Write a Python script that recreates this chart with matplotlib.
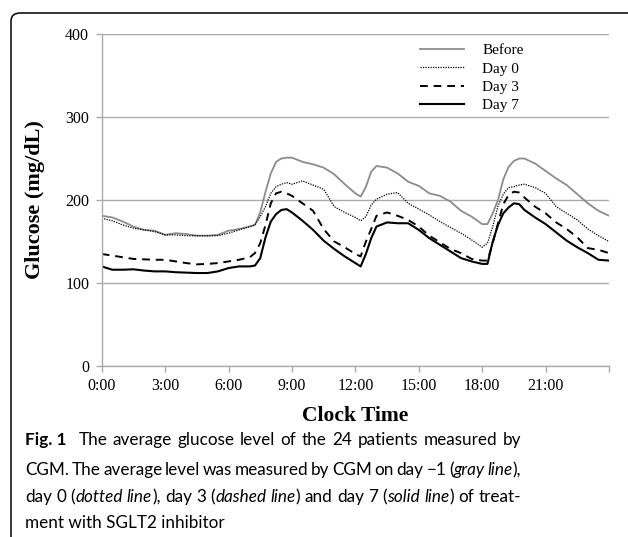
import matplotlib
matplotlib.use('Agg')
import matplotlib.pyplot as plt
from matplotlib.patches import FancyBboxPatch

# clock time (hours) and mean glucose (mg/dL)
hours = [0, 0.5, 1, 1.5, 2, 2.5, 3, 3.5, 4, 4.5, 5, 5.5, 6, 6.5, 7, 7.25,
         7.5, 7.75, 8, 8.25, 8.5, 8.75, 9, 9.5, 10, 10.5, 11, 11.5, 12, 12.25,
         12.5, 12.75, 13, 13.5, 14, 14.5, 15, 15.5, 16, 16.5, 17, 17.5, 18, 18.25,
         18.5, 18.75, 19, 19.25, 19.5, 19.75, 20, 20.5, 21, 21.5, 22, 22.5, 23, 23.5, 24]

before = [181, 179, 174, 168, 164, 163, 158, 160, 159, 157, 157, 158, 163, 165, 168, 170,
          185, 210, 232, 246, 250, 251, 251, 246, 243, 239, 231, 219, 208, 204,
          216, 234, 241, 239, 232, 222, 217, 208, 205, 198, 187, 180, 171, 171,
          184, 200, 225, 240, 247, 250, 250, 244, 235, 226, 218, 207, 196, 187, 181]

day0 = [178, 175, 170, 166, 164, 162, 158, 158, 157, 157, 157, 157, 160, 164, 168, 170,
        180, 192, 208, 216, 219, 221, 219, 223, 218, 213, 192, 185, 179, 175,
        180, 194, 201, 207, 209, 196, 189, 182, 174, 167, 160, 152, 143, 148,
        168, 193, 207, 215, 216, 218, 219, 215, 208, 192, 184, 176, 165, 157, 150]

day3 = [135, 133, 131, 129, 128.5, 128, 128, 126, 124, 122.5, 123, 124, 126, 128, 131, 136,
        148, 170, 196, 208, 210, 208, 205, 196, 187, 165, 150, 143, 135, 132,
        150, 165, 181, 185, 181, 176, 168, 157, 149, 141, 136, 129, 127, 127,
        148, 172, 195, 206, 210, 209, 203, 192, 184, 173, 165, 155, 142, 140, 136]

day7 = [120, 116, 116, 116.5, 115, 114, 114, 113, 112.5, 112, 112, 114, 118, 120, 120, 121,
        130, 155, 174, 183, 188, 189, 185, 175, 164, 151, 141, 132, 124, 120,
        135, 154, 168, 173, 172, 172, 164, 154, 146, 138, 130, 126, 123, 123,
        150, 170, 184, 191, 196, 195, 188, 179, 171, 161, 151, 143, 136, 128, 127]

tick_hours = [0, 3, 6, 9, 12, 15, 18, 21, 24]
tick_labels = ['0:00', '3:00', '6:00', '9:00', '12:00', '15:00', '18:00', '21:00', '']
y_ticks = [0, 100, 200, 300, 400]

W, H = 628, 537
fig = plt.figure(figsize=(W / 100, H / 100), dpi=100)
ax = fig.add_axes([101.7 / W, 1 - 366 / H, 507.3 / W, 332 / H])

serif = 'Liberation Serif'
grid_col = '#ababab'

ax.plot(hours, before, color='#8c8c8c', lw=1.3, label='Before')
ax.plot(hours, day0, color='black', lw=0.9, ls=(0, (1, 1)), label='Day 0')
ax.plot(hours, day3, color='black', lw=1.4, ls=(0, (4, 3)), label='Day 3')
ax.plot(hours, day7, color='black', lw=1.5, label='Day 7')

ax.set_xlim(0, 24)
ax.set_ylim(0, 400)
ax.set_xticks(tick_hours)
ax.set_xticklabels(tick_labels, family=serif, fontsize=11.5)
ax.set_yticks(y_ticks)
ax.set_yticklabels([str(v) for v in y_ticks], family=serif, fontsize=11.5)
ax.tick_params(axis='both', color=grid_col, length=4, width=1, pad=5)
for s in ['top', 'right']:
    ax.spines[s].set_visible(False)
for s in ['left', 'bottom']:
    ax.spines[s].set_color(grid_col)
    ax.spines[s].set_linewidth(1)
ax.yaxis.grid(True, color=grid_col, lw=1)
ax.set_axisbelow(True)

ax.set_ylabel('Glucose (mg/dL)', family=serif, fontweight='bold', fontsize=16)
ax.yaxis.set_label_coords(-0.112, 0.5)
ax.set_xlabel('Clock Time', family=serif, fontweight='bold', fontsize=15.5)
ax.xaxis.set_label_coords(0.5, -0.12)

ax.legend(loc='upper left', bbox_to_anchor=(0.627, 0.971), frameon=False,
          prop={'family': serif, 'size': 11}, handlelength=2.9,
          handletextpad=1.2, labelspacing=0.3, borderpad=0, borderaxespad=0)

# rounded frame of the figure panel (cropped at right and bottom)
frame = FancyBboxPatch((11 / W, 1 - 545 / H), 630 / W, 532 / H,
                       boxstyle='round,pad=0,rounding_size=0.015',
                       transform=fig.transFigure, fill=False, ec='black', lw=1.1,
                       clip_on=False)
fig.patches.append(frame)

# caption, with bold / italic runs; lines 1-3 justified
cap_font = ['Lato', 'DejaVu Sans']
cap_size = 12.3
caption = [
    [('Fig.\u00a01', 'bold', 'normal'), ('  The average glucose level of the 24 patients measured by', 'normal', 'normal')],
    [('CGM. The average level was measured by CGM on day \u22121 (', 'normal', 'normal'),
     ('gray line', 'normal', 'italic'), ('),', 'normal', 'normal')],
    [('day 0 (', 'normal', 'normal'), ('dotted line', 'normal', 'italic'), ('), day 3 (', 'normal', 'normal'),
     ('dashed line', 'normal', 'italic'), (') and day 7 (', 'normal', 'normal'),
     ('solid line', 'normal', 'italic'), (') of treat-', 'normal', 'normal')],
    [('ment with SGLT2 inhibitor', 'normal', 'normal')],
]
line_base = [445, 475, 502, 528]
justified = [True, True, True, False]
x_left, x_right = 25.0, 521.0

renderer = fig.canvas.get_renderer()


def cap_text(x, y, s, weight, style):
    return fig.text(x / W, 1 - y / H, s, family=cap_font, fontsize=cap_size,
                    fontweight=weight, fontstyle=style, va='baseline', ha='left')


for runs, yy, just in zip(caption, line_base, justified):
    if not just:
        x = x_left
        for txt, weight, style in runs:
            t = cap_text(x, yy, txt, weight, style)
            x = t.get_window_extent(renderer).x1
        continue
    # split into words, each a list of (text, weight, style) pieces
    words, gaps = [[]], []
    for txt, weight, style in runs:
        for i, part in enumerate(txt.split(' ')):
            if i > 0:
                if words[-1]:
                    words.append([])
                    gaps.append(1.0)
                elif gaps:
                    gaps[-1] += 1.2
            if part:
                words[-1].append((part, weight, style))
    if not words[-1]:
        words.pop()
    gaps = gaps[:len(words) - 1]
    objs, widths = [], []
    for w in words:
        x, ts = 0.0, []
        for part, weight, style in w:
            t = cap_text(x, yy, part, weight, style)
            ts.append(t)
            x = t.get_window_extent(renderer).x1
        objs.append(ts)
        widths.append(x)
    unit = (x_right - x_left - sum(widths)) / sum(gaps)
    x = x_left
    for k, ts in enumerate(objs):
        for t in ts:
            px, py = t.get_position()
            t.set_position((px + x / W, py))
        x += widths[k]
        if k < len(gaps):
            x += gaps[k] * unit

fig.savefig('out.png', dpi=100)
